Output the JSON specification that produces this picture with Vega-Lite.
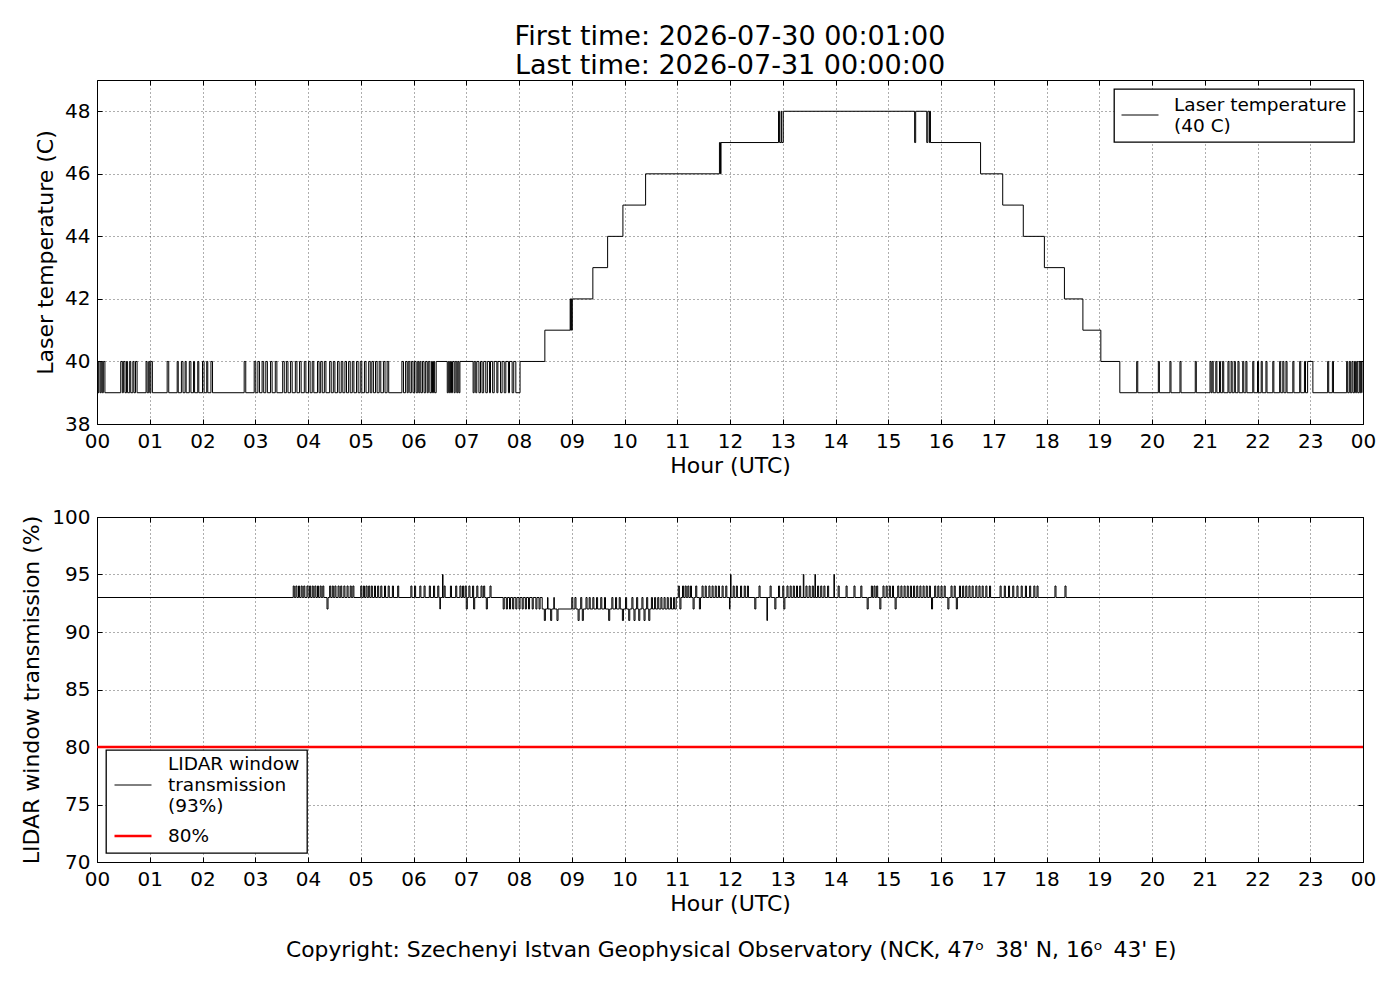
{
  "$schema": "https://vega.github.io/schema/vega-lite/v6.json",
  "background": "white",
  "padding": {"left": 20, "top": 22, "right": 37, "bottom": 20},
  "datasets": {
    "laser": [
      {"h":0,"t":40},{"h":0.02,"t":39},{"h":0.035,"t":40},{"h":0.06,"t":39},{"h":0.08,"t":40},{"h":0.1,"t":39},{"h":0.12,"t":40},{"h":0.15,"t":39},
      {"h":0.45,"t":40},{"h":0.48,"t":39},{"h":0.5,"t":40},{"h":0.53,"t":39},{"h":0.56,"t":40},{"h":0.58,"t":39},{"h":0.62,"t":40},{"h":0.64,"t":39},{"h":0.68,"t":40},{"h":0.7,"t":39},{"h":0.73,"t":40},{"h":0.76,"t":39},
      {"h":0.93,"t":40},{"h":0.95,"t":39},{"h":0.98,"t":40},{"h":1.0,"t":39},{"h":1.02,"t":40},{"h":1.05,"t":39},
      {"h":1.33,"t":40},{"h":1.36,"t":39},{"h":1.52,"t":40},{"h":1.54,"t":39},{"h":1.6,"t":40},{"h":1.63,"t":39},{"h":1.67,"t":40},{"h":1.69,"t":39},{"h":1.75,"t":40},{"h":1.78,"t":39},{"h":1.83,"t":40},{"h":1.85,"t":39},{"h":1.91,"t":40},{"h":1.93,"t":39},{"h":2.0,"t":40},{"h":2.03,"t":39},{"h":2.08,"t":40},{"h":2.1,"t":39},{"h":2.16,"t":40},{"h":2.19,"t":39},
      {"h":2.79,"t":40},{"h":2.82,"t":39},{"h":2.98,"t":40},{"h":3.01,"t":39},{"h":3.05,"t":40},{"h":3.08,"t":39},{"h":3.13,"t":40},{"h":3.16,"t":39},{"h":3.2,"t":40},{"h":3.23,"t":39},{"h":3.29,"t":40},{"h":3.32,"t":39},{"h":3.38,"t":40},{"h":3.41,"t":39},{"h":3.52,"t":40},{"h":3.55,"t":39},{"h":3.59,"t":40},{"h":3.62,"t":39},{"h":3.67,"t":40},{"h":3.7,"t":39},{"h":3.76,"t":40},{"h":3.79,"t":39},{"h":3.84,"t":40},{"h":3.87,"t":39},{"h":3.93,"t":40},{"h":3.96,"t":39},{"h":4.01,"t":40},{"h":4.04,"t":39},{"h":4.08,"t":40},{"h":4.11,"t":39},{"h":4.18,"t":40},{"h":4.21,"t":39},{"h":4.24,"t":40},{"h":4.27,"t":39},{"h":4.31,"t":40},{"h":4.34,"t":39},{"h":4.41,"t":40},{"h":4.44,"t":39},{"h":4.48,"t":40},{"h":4.51,"t":39},{"h":4.56,"t":40},{"h":4.59,"t":39},{"h":4.63,"t":40},{"h":4.66,"t":39},{"h":4.7,"t":40},{"h":4.73,"t":39},{"h":4.77,"t":40},{"h":4.8,"t":39},{"h":4.84,"t":40},{"h":4.87,"t":39},{"h":4.92,"t":40},{"h":4.95,"t":39},{"h":4.99,"t":40},{"h":5.02,"t":39},{"h":5.07,"t":40},{"h":5.1,"t":39},{"h":5.15,"t":40},{"h":5.18,"t":39},{"h":5.21,"t":40},{"h":5.24,"t":39},{"h":5.28,"t":40},{"h":5.31,"t":39},{"h":5.35,"t":40},{"h":5.38,"t":39},{"h":5.43,"t":40},{"h":5.46,"t":39},{"h":5.5,"t":40},{"h":5.53,"t":39},
      {"h":5.78,"t":40},{"h":5.81,"t":39},{"h":5.85,"t":40},{"h":5.88,"t":39},{"h":5.9,"t":40},{"h":5.93,"t":39},{"h":5.96,"t":40},{"h":5.99,"t":39},{"h":6.02,"t":40},{"h":6.05,"t":39},{"h":6.08,"t":40},{"h":6.1,"t":39},{"h":6.12,"t":40},{"h":6.14,"t":39},{"h":6.17,"t":40},{"h":6.2,"t":39},{"h":6.23,"t":40},{"h":6.26,"t":39},{"h":6.28,"t":40},{"h":6.31,"t":39},{"h":6.34,"t":40},{"h":6.36,"t":39},{"h":6.38,"t":40},{"h":6.4,"t":39},
      {"h":6.43,"t":40},{"h":6.64,"t":39},{"h":6.66,"t":40},{"h":6.68,"t":39},{"h":6.7,"t":40},{"h":6.72,"t":39},{"h":6.74,"t":40},{"h":6.77,"t":39},{"h":6.79,"t":40},{"h":6.82,"t":39},{"h":6.84,"t":40},{"h":6.86,"t":39},{"h":6.88,"t":40},
      {"h":7.13,"t":39},{"h":7.15,"t":40},{"h":7.18,"t":39},{"h":7.2,"t":40},{"h":7.24,"t":39},{"h":7.27,"t":40},{"h":7.3,"t":39},{"h":7.33,"t":40},{"h":7.37,"t":39},{"h":7.4,"t":40},{"h":7.44,"t":39},{"h":7.46,"t":40},{"h":7.5,"t":39},{"h":7.53,"t":40},{"h":7.58,"t":39},{"h":7.6,"t":40},{"h":7.65,"t":39},{"h":7.68,"t":40},{"h":7.72,"t":39},{"h":7.75,"t":40},{"h":7.8,"t":39},{"h":7.82,"t":40},{"h":7.87,"t":39},{"h":7.9,"t":40},{"h":7.94,"t":39},
      {"h":8.02,"t":40},{"h":8.49,"t":41},{"h":8.97,"t":42},{"h":8.98,"t":41},{"h":8.99,"t":42},{"h":9.0,"t":41},{"h":9.01,"t":42},{"h":9.4,"t":43},{"h":9.68,"t":44},{"h":9.97,"t":45},{"h":10.4,"t":46},{"h":11.8,"t":47},{"h":11.82,"t":46},{"h":11.83,"t":47},
      {"h":12.92,"t":48},{"h":12.94,"t":47},{"h":12.97,"t":48},{"h":12.98,"t":47},{"h":13.01,"t":48},{"h":15.5,"t":47},{"h":15.52,"t":48},{"h":15.73,"t":47},{"h":15.75,"t":48},{"h":15.78,"t":47},{"h":15.79,"t":48},{"h":15.8,"t":47},
      {"h":16.75,"t":46},{"h":17.17,"t":45},{"h":17.56,"t":44},{"h":17.96,"t":43},{"h":18.34,"t":42},{"h":18.69,"t":41},{"h":19.03,"t":40},{"h":19.39,"t":39},
      {"h":19.71,"t":40},{"h":19.73,"t":39},{"h":20.12,"t":40},{"h":20.14,"t":39},{"h":20.34,"t":40},{"h":20.36,"t":39},{"h":20.53,"t":40},{"h":20.55,"t":39},{"h":20.82,"t":40},{"h":20.84,"t":39},{"h":21.1,"t":40},{"h":21.12,"t":39},{"h":21.14,"t":40},{"h":21.16,"t":39},{"h":21.21,"t":40},{"h":21.23,"t":39},{"h":21.28,"t":40},{"h":21.3,"t":39},{"h":21.34,"t":40},{"h":21.36,"t":39},{"h":21.44,"t":40},{"h":21.46,"t":39},{"h":21.5,"t":40},{"h":21.52,"t":39},{"h":21.56,"t":40},{"h":21.58,"t":39},{"h":21.63,"t":40},{"h":21.65,"t":39},{"h":21.72,"t":40},{"h":21.74,"t":39},{"h":21.78,"t":40},{"h":21.8,"t":39},{"h":21.91,"t":40},{"h":21.93,"t":39},{"h":22.0,"t":40},{"h":22.02,"t":39},{"h":22.07,"t":40},{"h":22.09,"t":39},{"h":22.16,"t":40},{"h":22.18,"t":39},{"h":22.29,"t":40},{"h":22.31,"t":39},{"h":22.42,"t":40},{"h":22.44,"t":39},{"h":22.48,"t":40},{"h":22.5,"t":39},{"h":22.54,"t":40},{"h":22.56,"t":39},{"h":22.67,"t":40},{"h":22.69,"t":39},{"h":22.8,"t":40},{"h":22.82,"t":39},{"h":22.89,"t":40},{"h":22.91,"t":39},{"h":22.95,"t":40},{"h":23.05,"t":39},{"h":23.33,"t":40},{"h":23.35,"t":39},{"h":23.42,"t":40},{"h":23.44,"t":39},{"h":23.69,"t":40},{"h":23.71,"t":39},{"h":23.74,"t":40},{"h":23.76,"t":39},{"h":23.79,"t":40},{"h":23.81,"t":39},{"h":23.84,"t":40},{"h":23.86,"t":39},{"h":23.88,"t":40},{"h":23.9,"t":39},{"h":23.93,"t":40},{"h":23.95,"t":39},{"h":23.97,"t":40},{"h":24,"t":39}
    ],
    "lidar": [
      {"h":0,"v":93},
      {"h":3.72,"v":94},{"h":3.74,"v":93},{"h":3.77,"v":94},{"h":3.79,"v":93},{"h":3.82,"v":94},{"h":3.84,"v":93},{"h":3.87,"v":94},{"h":3.89,"v":93},{"h":3.92,"v":94},{"h":3.94,"v":93},{"h":3.98,"v":94},{"h":4.0,"v":93},{"h":4.03,"v":94},{"h":4.05,"v":93},{"h":4.08,"v":94},{"h":4.1,"v":93},{"h":4.13,"v":94},{"h":4.15,"v":93},{"h":4.18,"v":94},{"h":4.2,"v":93},{"h":4.23,"v":94},{"h":4.25,"v":93},{"h":4.28,"v":94},{"h":4.3,"v":93},{"h":4.36,"v":92},{"h":4.38,"v":93},{"h":4.41,"v":94},{"h":4.43,"v":93},{"h":4.46,"v":94},{"h":4.48,"v":93},{"h":4.51,"v":94},{"h":4.53,"v":93},{"h":4.57,"v":94},{"h":4.59,"v":93},{"h":4.62,"v":94},{"h":4.64,"v":93},{"h":4.68,"v":94},{"h":4.7,"v":93},{"h":4.74,"v":94},{"h":4.76,"v":93},{"h":4.8,"v":94},{"h":4.82,"v":93},{"h":4.85,"v":94},{"h":4.87,"v":93},
      {"h":5.0,"v":94},{"h":5.02,"v":93},{"h":5.05,"v":94},{"h":5.07,"v":93},{"h":5.1,"v":94},{"h":5.12,"v":93},{"h":5.15,"v":94},{"h":5.17,"v":93},{"h":5.2,"v":94},{"h":5.22,"v":93},{"h":5.26,"v":94},{"h":5.28,"v":93},{"h":5.32,"v":94},{"h":5.34,"v":93},{"h":5.38,"v":94},{"h":5.4,"v":93},{"h":5.45,"v":94},{"h":5.47,"v":93},{"h":5.52,"v":94},{"h":5.54,"v":93},{"h":5.6,"v":94},{"h":5.62,"v":93},{"h":5.7,"v":94},{"h":5.72,"v":93},{"h":5.95,"v":94},{"h":5.97,"v":93},{"h":6.02,"v":94},{"h":6.04,"v":93},{"h":6.12,"v":94},{"h":6.14,"v":93},{"h":6.2,"v":94},{"h":6.22,"v":93},{"h":6.3,"v":94},{"h":6.32,"v":93},{"h":6.38,"v":94},{"h":6.4,"v":93},{"h":6.46,"v":94},{"h":6.48,"v":93},{"h":6.5,"v":92},{"h":6.51,"v":93},{"h":6.55,"v":95},{"h":6.56,"v":93},{"h":6.58,"v":94},{"h":6.6,"v":93},{"h":6.7,"v":94},{"h":6.72,"v":93},{"h":6.8,"v":94},{"h":6.82,"v":93},{"h":6.88,"v":94},{"h":6.9,"v":93},{"h":6.93,"v":94},{"h":6.95,"v":93},{"h":6.98,"v":94},{"h":7.0,"v":92},{"h":7.02,"v":93},{"h":7.05,"v":94},{"h":7.07,"v":93},{"h":7.12,"v":94},{"h":7.14,"v":92},{"h":7.16,"v":93},{"h":7.2,"v":94},{"h":7.22,"v":93},{"h":7.28,"v":94},{"h":7.3,"v":93},{"h":7.33,"v":94},{"h":7.35,"v":93},{"h":7.38,"v":92},{"h":7.4,"v":93},{"h":7.45,"v":94},{"h":7.47,"v":93},
      {"h":7.7,"v":92},{"h":7.72,"v":93},{"h":7.76,"v":92},{"h":7.78,"v":93},{"h":7.82,"v":92},{"h":7.84,"v":93},{"h":7.88,"v":92},{"h":7.9,"v":93},{"h":7.94,"v":92},{"h":7.96,"v":93},{"h":8.0,"v":92},{"h":8.02,"v":93},{"h":8.06,"v":92},{"h":8.08,"v":93},{"h":8.12,"v":92},{"h":8.14,"v":93},{"h":8.18,"v":92},{"h":8.2,"v":93},{"h":8.25,"v":92},{"h":8.27,"v":93},{"h":8.32,"v":92},{"h":8.34,"v":93},{"h":8.38,"v":92},{"h":8.4,"v":93},{"h":8.44,"v":92},
      {"h":8.48,"v":91},{"h":8.5,"v":92},{"h":8.54,"v":93},{"h":8.55,"v":92},{"h":8.6,"v":91},{"h":8.62,"v":92},{"h":8.66,"v":93},{"h":8.67,"v":92},{"h":8.72,"v":91},{"h":8.74,"v":92},
      {"h":9.0,"v":93},{"h":9.02,"v":92},{"h":9.06,"v":93},{"h":9.08,"v":92},{"h":9.12,"v":91},{"h":9.14,"v":92},{"h":9.17,"v":93},{"h":9.19,"v":92},{"h":9.2,"v":91},{"h":9.22,"v":92},{"h":9.27,"v":93},{"h":9.29,"v":92},{"h":9.33,"v":93},{"h":9.35,"v":92},{"h":9.4,"v":93},{"h":9.42,"v":92},{"h":9.47,"v":93},{"h":9.49,"v":92},{"h":9.55,"v":93},{"h":9.57,"v":92},{"h":9.62,"v":93},{"h":9.64,"v":92},{"h":9.7,"v":91},{"h":9.72,"v":92},{"h":9.76,"v":93},{"h":9.78,"v":92},{"h":9.83,"v":93},{"h":9.85,"v":92},{"h":9.9,"v":93},{"h":9.92,"v":92},{"h":9.96,"v":91},{"h":9.98,"v":92},{"h":10.02,"v":93},{"h":10.04,"v":92},{"h":10.08,"v":91},{"h":10.1,"v":92},{"h":10.14,"v":93},{"h":10.16,"v":92},{"h":10.18,"v":91},{"h":10.2,"v":92},{"h":10.23,"v":93},{"h":10.25,"v":92},{"h":10.27,"v":91},{"h":10.29,"v":92},{"h":10.33,"v":93},{"h":10.35,"v":92},{"h":10.37,"v":91},{"h":10.39,"v":92},{"h":10.42,"v":93},{"h":10.44,"v":92},{"h":10.46,"v":91},{"h":10.48,"v":92},{"h":10.51,"v":93},{"h":10.53,"v":92},{"h":10.57,"v":93},{"h":10.59,"v":92},{"h":10.63,"v":93},{"h":10.65,"v":92},{"h":10.69,"v":93},{"h":10.71,"v":92},{"h":10.75,"v":93},{"h":10.77,"v":92},{"h":10.81,"v":93},{"h":10.83,"v":92},{"h":10.87,"v":93},{"h":10.89,"v":92},{"h":10.93,"v":93},{"h":10.95,"v":92},{"h":10.98,"v":93},
      {"h":11.02,"v":94},{"h":11.04,"v":93},{"h":11.05,"v":92},{"h":11.07,"v":93},{"h":11.1,"v":94},{"h":11.12,"v":93},{"h":11.15,"v":94},{"h":11.17,"v":93},{"h":11.2,"v":94},{"h":11.22,"v":93},{"h":11.25,"v":94},{"h":11.27,"v":93},{"h":11.3,"v":92},{"h":11.32,"v":93},{"h":11.35,"v":94},{"h":11.37,"v":93},{"h":11.42,"v":92},{"h":11.44,"v":93},{"h":11.47,"v":94},{"h":11.49,"v":93},{"h":11.53,"v":94},{"h":11.55,"v":93},{"h":11.6,"v":94},{"h":11.62,"v":93},{"h":11.66,"v":94},{"h":11.68,"v":93},{"h":11.72,"v":94},{"h":11.74,"v":93},{"h":11.78,"v":94},{"h":11.8,"v":93},{"h":11.85,"v":94},{"h":11.87,"v":93},{"h":11.92,"v":94},{"h":11.94,"v":93},{"h":11.99,"v":92},{"h":12.0,"v":93},{"h":12.01,"v":95},{"h":12.02,"v":93},{"h":12.06,"v":94},{"h":12.08,"v":93},{"h":12.12,"v":94},{"h":12.14,"v":93},{"h":12.2,"v":94},{"h":12.22,"v":93},{"h":12.27,"v":94},{"h":12.29,"v":93},{"h":12.33,"v":94},{"h":12.35,"v":93},{"h":12.47,"v":92},{"h":12.49,"v":93},{"h":12.55,"v":94},{"h":12.57,"v":93},{"h":12.7,"v":91},{"h":12.71,"v":93},{"h":12.76,"v":94},{"h":12.78,"v":93},{"h":12.85,"v":92},{"h":12.87,"v":93},{"h":12.92,"v":94},{"h":12.94,"v":93},{"h":13.0,"v":94},{"h":13.02,"v":92},{"h":13.04,"v":93},{"h":13.08,"v":94},{"h":13.1,"v":93},{"h":13.14,"v":94},{"h":13.16,"v":93},{"h":13.2,"v":94},{"h":13.22,"v":93},{"h":13.26,"v":94},{"h":13.28,"v":93},{"h":13.32,"v":94},{"h":13.34,"v":93},{"h":13.39,"v":95},{"h":13.4,"v":93},{"h":13.44,"v":94},{"h":13.46,"v":93},{"h":13.5,"v":94},{"h":13.52,"v":93},{"h":13.56,"v":94},{"h":13.58,"v":93},{"h":13.61,"v":95},{"h":13.62,"v":93},{"h":13.66,"v":94},{"h":13.68,"v":93},{"h":13.72,"v":94},{"h":13.74,"v":93},{"h":13.78,"v":94},{"h":13.8,"v":93},{"h":13.85,"v":94},{"h":13.87,"v":93},{"h":13.97,"v":95},{"h":13.98,"v":93},{"h":14.05,"v":94},{"h":14.07,"v":93},{"h":14.2,"v":94},{"h":14.22,"v":93},{"h":14.35,"v":94},{"h":14.37,"v":93},{"h":14.48,"v":94},{"h":14.5,"v":93},{"h":14.6,"v":92},{"h":14.62,"v":93},{"h":14.68,"v":94},{"h":14.7,"v":93},{"h":14.73,"v":94},{"h":14.75,"v":93},{"h":14.78,"v":94},{"h":14.8,"v":93},{"h":14.84,"v":92},{"h":14.86,"v":93},{"h":14.9,"v":94},{"h":14.92,"v":93},{"h":14.96,"v":94},{"h":14.98,"v":93},{"h":15.02,"v":94},{"h":15.04,"v":93},{"h":15.08,"v":94},{"h":15.1,"v":93},{"h":15.13,"v":92},{"h":15.15,"v":93},{"h":15.18,"v":94},{"h":15.2,"v":93},{"h":15.24,"v":94},{"h":15.26,"v":93},{"h":15.3,"v":94},{"h":15.32,"v":93},{"h":15.36,"v":94},{"h":15.38,"v":93},{"h":15.42,"v":94},{"h":15.44,"v":93},{"h":15.48,"v":94},{"h":15.5,"v":93},{"h":15.54,"v":94},{"h":15.56,"v":93},{"h":15.6,"v":94},{"h":15.62,"v":93},{"h":15.66,"v":94},{"h":15.68,"v":93},{"h":15.72,"v":94},{"h":15.74,"v":93},{"h":15.78,"v":94},{"h":15.8,"v":93},{"h":15.82,"v":92},{"h":15.84,"v":93},{"h":15.88,"v":94},{"h":15.9,"v":93},{"h":15.94,"v":94},{"h":15.96,"v":93},{"h":16.0,"v":94},{"h":16.02,"v":93},{"h":16.06,"v":94},{"h":16.08,"v":93},{"h":16.13,"v":92},{"h":16.15,"v":93},{"h":16.19,"v":94},{"h":16.21,"v":93},{"h":16.25,"v":94},{"h":16.27,"v":93},{"h":16.29,"v":92},{"h":16.31,"v":93},{"h":16.35,"v":94},{"h":16.37,"v":93},{"h":16.41,"v":94},{"h":16.43,"v":93},{"h":16.47,"v":94},{"h":16.49,"v":93},{"h":16.53,"v":94},{"h":16.55,"v":93},{"h":16.59,"v":94},{"h":16.61,"v":93},{"h":16.66,"v":94},{"h":16.68,"v":93},{"h":16.72,"v":94},{"h":16.74,"v":93},{"h":16.78,"v":94},{"h":16.8,"v":93},{"h":16.85,"v":94},{"h":16.87,"v":93},{"h":16.92,"v":94},{"h":16.94,"v":93},
      {"h":17.12,"v":94},{"h":17.14,"v":93},{"h":17.2,"v":94},{"h":17.22,"v":93},{"h":17.28,"v":94},{"h":17.3,"v":93},{"h":17.36,"v":94},{"h":17.38,"v":93},{"h":17.44,"v":94},{"h":17.46,"v":93},{"h":17.52,"v":94},{"h":17.54,"v":93},{"h":17.6,"v":94},{"h":17.62,"v":93},{"h":17.68,"v":94},{"h":17.7,"v":93},{"h":17.76,"v":94},{"h":17.78,"v":93},{"h":17.82,"v":94},{"h":17.84,"v":93},{"h":18.16,"v":94},{"h":18.18,"v":93},{"h":18.35,"v":94},{"h":18.37,"v":93},{"h":24,"v":93}
    ],
    "limit": [{"h":0,"v":80},{"h":24,"v":80}]
  },
  "config": {
    "font": "DejaVu Sans",
    "view": {"stroke": "black", "strokeWidth": 1},
    "axis": {
      "labelFont": "DejaVu Sans", "labelFontSize": 20, "labelColor": "black",
      "titleFont": "DejaVu Sans", "titleFontSize": 22, "titleFontWeight": "normal", "titleColor": "black",
      "tickColor": "black", "tickSize": -5, "labelPadding": 12, "domain": false,
      "gridColor": "black", "gridDash": [1, 3], "gridWidth": 0.8, "gridOpacity": 0.8,
      "labelFlush": false, "labelOverlap": false, "labelBound": false
    },
    "legend": {
      "title": null, "strokeColor": "black", "strokeWidth": 1.3, "fillColor": "white", "cornerRadius": 0,
      "symbolType": "stroke", "symbolSize": 1369, "symbolStrokeWidth": 1,
      "labelFont": "DejaVu Sans", "labelFontSize": 18.5, "labelColor": "black", "labelLimit": 0,
      "offset": 9, "padding": 7, "labelOffset": 15, "rowPadding": -2
    }
  },
  "title": {
    "text": "Copyright: Szechenyi Istvan Geophysical Observatory (NCK, 47ᵒ\u200238' N, 16ᵒ\u200243' E)",
    "orient": "bottom", "anchor": "middle", "fontSize": 21.8, "fontWeight": "normal", "font": "DejaVu Sans", "color": "black", "offset": 25, "dx": 33
  },
  "spacing": 29,
  "resolve": {"scale": {"color": "independent", "strokeWidth": "independent"}, "legend": {"color": "independent", "strokeWidth": "independent"}},
  "vconcat": [
    {
      "title": {
        "text": ["First time: 2026-07-30 00:01:00", "Last time: 2026-07-31 00:00:00"],
        "frame": "group", "anchor": "middle", "fontSize": 27, "fontWeight": "normal", "font": "DejaVu Sans", "color": "black", "lineHeight": 29, "offset": 0
      },
      "width": 1266,
      "height": 344,
      "layer": [
        {
          "data": {"name": "laser"},
          "mark": {"type": "line", "interpolate": "step-after", "strokeWidth": 1},
          "encoding": {
            "x": {"field": "h", "type": "quantitative", "scale": {"domain": [0, 24], "nice": false, "zero": false},
              "axis": {"title": "Hour (UTC)", "values": [0,1,2,3,4,5,6,7,8,9,10,11,12,13,14,15,16,17,18,19,20,21,22,23,24],
                "labelExpr": "(datum.value % 24 < 10 ? '0' : '') + (datum.value % 24)", "grid": true, "titlePadding": 4}},
            "y": {"field": "t", "type": "quantitative", "scale": {"domain": [38, 49], "nice": false, "zero": false},
              "axis": {"title": "Laser temperature (C)", "values": [38,40,42,44,46,48], "grid": true, "titlePadding": 7}},
            "color": {"datum": "Laser temperature|(40 C)", "type": "nominal",
              "scale": {"domain": ["Laser temperature|(40 C)"], "range": ["black"]},
              "legend": {"orient": "top-right", "labelExpr": "split(datum.label, '|')",
                "encode": {"labels": {"update": {"lineHeight": {"value": 21}, "dy": {"signal": "-(length(split(datum.value, '|')) - 1) * 10.5"}}}}}}
          }
        },
        {
          "data": {"name": "laser"},
          "mark": {"type": "line", "opacity": 0},
          "encoding": {
            "x": {"field": "h", "type": "quantitative",
              "axis": {"orient": "top", "title": null, "labels": false, "grid": false, "values": [0,1,2,3,4,5,6,7,8,9,10,11,12,13,14,15,16,17,18,19,20,21,22,23,24]}},
            "y": {"field": "t", "type": "quantitative",
              "axis": {"orient": "right", "title": null, "labels": false, "grid": false, "values": [38,40,42,44,46,48]}}
          }
        }
      ],
      "resolve": {"axis": {"x": "independent", "y": "independent"}}
    },
    {
      "width": 1266,
      "height": 345,
      "layer": [
        {
          "data": {"name": "lidar"},
          "mark": {"type": "line", "interpolate": "step-after"},
          "encoding": {
            "x": {"field": "h", "type": "quantitative", "scale": {"domain": [0, 24], "nice": false, "zero": false},
              "axis": {"title": "Hour (UTC)", "values": [0,1,2,3,4,5,6,7,8,9,10,11,12,13,14,15,16,17,18,19,20,21,22,23,24],
                "labelExpr": "(datum.value % 24 < 10 ? '0' : '') + (datum.value % 24)", "grid": true, "titlePadding": 4}},
            "y": {"field": "v", "type": "quantitative", "scale": {"domain": [70, 100], "nice": false, "zero": false},
              "axis": {"title": "LIDAR window transmission (%)", "values": [70,75,80,85,90,95,100], "grid": true, "titlePadding": 8}},
            "color": {"datum": "LIDAR window|transmission|(93%)", "type": "nominal",
              "scale": {"domain": ["LIDAR window|transmission|(93%)", "80%"], "range": ["black", "red"]},
              "legend": {"orient": "bottom-left", "labelExpr": "split(datum.label, '|')", "title": " ", "titleFontSize": 4, "titlePadding": 5, "rowPadding": -6,
                "encode": {"labels": {"update": {"lineHeight": {"value": 21}, "dy": {"signal": "-(length(split(datum.value, '|')) - 1) * 10.5"}}}}}},
            "strokeWidth": {"datum": "LIDAR window|transmission|(93%)", "type": "nominal",
              "scale": {"domain": ["LIDAR window|transmission|(93%)", "80%"], "range": [1, 2.5]},
              "legend": {"orient": "bottom-left", "labelExpr": "split(datum.label, '|')", "title": " ", "titleFontSize": 4, "titlePadding": 5, "rowPadding": -6,
                "encode": {"labels": {"update": {"lineHeight": {"value": 21}, "dy": {"signal": "-(length(split(datum.value, '|')) - 1) * 10.5"}}}}}}
          }
        },
        {
          "data": {"name": "limit"},
          "mark": {"type": "line"},
          "encoding": {
            "x": {"field": "h", "type": "quantitative", "axis": null},
            "y": {"field": "v", "type": "quantitative", "axis": null},
            "color": {"datum": "80%", "type": "nominal"},
            "strokeWidth": {"datum": "80%", "type": "nominal"}
          }
        },
        {
          "data": {"name": "limit"},
          "mark": {"type": "line", "opacity": 0},
          "encoding": {
            "x": {"field": "h", "type": "quantitative",
              "axis": {"orient": "top", "title": null, "labels": false, "grid": false, "values": [0,1,2,3,4,5,6,7,8,9,10,11,12,13,14,15,16,17,18,19,20,21,22,23,24]}},
            "y": {"field": "v", "type": "quantitative",
              "axis": {"orient": "right", "title": null, "labels": false, "grid": false, "values": [70,75,80,85,90,95,100]}}
          }
        }
      ],
      "resolve": {"axis": {"x": "independent", "y": "independent"}}
    }
  ]
}
